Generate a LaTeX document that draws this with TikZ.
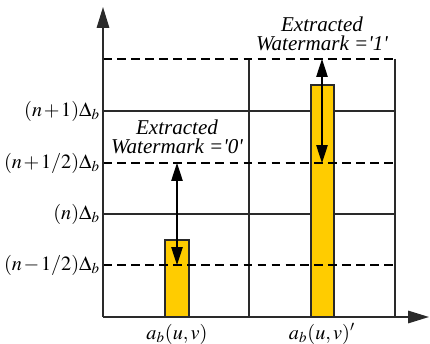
\documentclass[tikz,border=0pt]{standalone}
\usepackage{mathptmx}
\usepackage[no-math]{fontspec}
\setmainfont{Liberation Serif}
\newfontfamily\notefont{Liberation Serif}
\usetikzlibrary{arrows.meta,positioning}
\definecolor{ink}{HTML}{000000}
\definecolor{gridgray}{HTML}{2A2A2A}
\definecolor{bargold}{HTML}{FFCC00}
\newcommand{\tightlvl}[1]{$\medmuskip=1.5mu #1$}
\tikzset{
  axisarr/.style={-{Triangle[length=4.2mm,width=2.5mm]},line width=0.9pt,color=gridgray},
  gridline/.style={line width=0.6pt,color=gridgray},
  halfline/.style={line width=1.1pt,color=ink,dash pattern=on 5pt off 3pt},
  coefbar/.style={draw=gridgray,fill=bargold,line width=0.6pt},
  twoarr/.style={{Triangle[length=3.6mm,width=2.3mm]}-{Triangle[length=3.6mm,width=2.3mm]},line width=0.6pt,color=ink},
  lvllabel/.style={anchor=east,inner sep=1pt,font=\fontsize{11.5}{13}\selectfont},
  notetext/.style={align=center,inner sep=0pt,font=\notefont\fontsize{12}{10.5}\selectfont\itshape}
}

\begin{document}
\begin{tikzpicture}[x=0.02cm,y=-0.02cm]
  \useasboundingbox (0,0) rectangle (430,344);
  % grid
  \foreach \yy in {111,214} {
    \draw[gridline] (103,\yy) -- (395,\yy);
  }
  \draw[gridline] (249,59) -- (249,317);
  \draw[gridline] (395,59) -- (395,317);
  % coefficient bars
  \draw[coefbar] (165,317) rectangle (189,240);
  \draw[coefbar] (311,317) rectangle (334,85);
  % quantizer half steps
  \foreach \yy in {59,163,265} {
    \draw[halfline] (103,\yy) -- (395,\yy);
  }
  % axes
  \coordinate (orig) at (103,317);
  \coordinate (ytip) at (103,7);
  \coordinate (xtip) at (429,317);
  \draw[axisarr] (orig) -- (ytip);
  \draw[axisarr] (orig) -- (xtip);
  % level labels
  \node[lvllabel] (lvlA) at (102,111) {\tightlvl{(n+1)\Delta_b}};
  \node[lvllabel] (lvlB) at (102,163) {\tightlvl{(n+1/2)\Delta_b}};
  \node[lvllabel] (lvlC) at (102,214) {\tightlvl{(n)\Delta_b}};
  \node[lvllabel] (lvlD) at (102,265) {\tightlvl{(n-1/2)\Delta_b}};
  % coefficient labels
  \node[font=\fontsize{11.5}{13}\selectfont] (coefA) at (177,334) {$a_b(u,v)$};
  \node[font=\fontsize{11.5}{13}\selectfont] (coefB) at (322,334) {$a_b(u,v)'$};
  % extracted bits
  \node[notetext] (bitzero) at (177,137) {Extracted\\Watermark =\textquotesingle0\textquotesingle};
  \node[notetext] (bitone) at (322,34) {Extracted\\Watermark =\textquotesingle1\textquotesingle};
  \coordinate (zeroup) at (177,163);
  \coordinate (zerodn) at (177,265);
  \coordinate (oneup) at (322,59);
  \coordinate (onedn) at (322,163);
  \draw[twoarr] (zeroup) -- (zerodn);
  \draw[twoarr] (oneup) -- (onedn);
\end{tikzpicture}
\end{document}
